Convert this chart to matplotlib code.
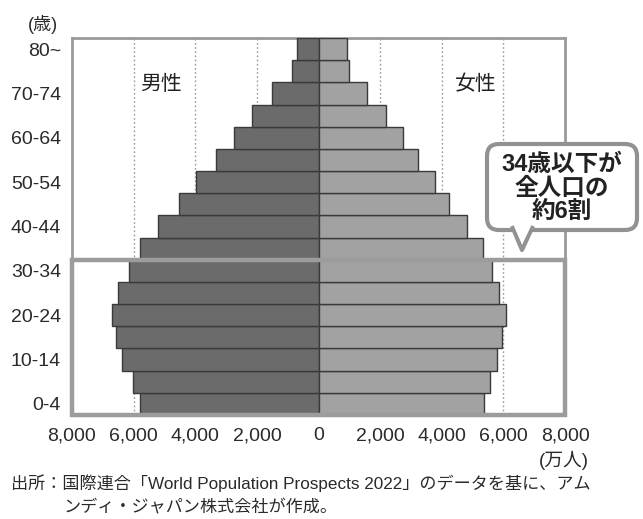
import matplotlib
matplotlib.use("Agg")
import matplotlib.pyplot as plt
from matplotlib.patches import FancyBboxPatch, Polygon, Rectangle

plt.rcParams['font.family'] = ['Liberation Sans', 'Noto Sans CJK JP', 'DejaVu Sans']

# ---- data (万人), bottom (0-4) to top (80~) ----
age_groups = ['0-4', '5-9', '10-14', '15-19', '20-24', '25-29', '30-34', '35-39',
              '40-44', '45-49', '50-54', '55-59', '60-64', '65-69', '70-74',
              '75-79', '80~']
male = [5800, 6030, 6390, 6570, 6710, 6500, 6150, 5800, 5220, 4520, 3980,
        3330, 2730, 2150, 1500, 850, 700]
female = [5370, 5550, 5790, 5950, 6080, 5870, 5620, 5350, 4830, 4250, 3780,
          3240, 2730, 2180, 1585, 990, 915]
x_ticks = [-8000, -6000, -4000, -2000, 0, 2000, 4000, 6000, 8000]
x_tick_labels = ['8,000', '6,000', '4,000', '2,000', '0', '2,000', '4,000',
                 '6,000', '8,000']
label_every = ['0-4', '10-14', '20-24', '30-34', '40-44', '50-54', '60-64',
               '70-74', '80~']

W, H = 643, 519
fig = plt.figure(figsize=(W / 100, H / 100), dpi=100)
ax = fig.add_axes([72 / W, 1 - 415 / H, (565 - 72) / W, (415 - 38) / H])

ypos = list(range(len(age_groups)))
male_color = '#6b6b6b'
female_color = '#a2a2a2'
edge = '#3a3a3a'

ax.barh(ypos, [-m for m in male], height=1.0, color=male_color,
        edgecolor=edge, linewidth=1.0, zorder=3)
ax.barh(ypos, female, height=1.0, color=female_color,
        edgecolor=edge, linewidth=1.0, zorder=3)

ax.set_xlim(-8000, 8000)
ax.set_ylim(-0.5, len(age_groups) - 0.5)

# dotted gridlines
for g in [-6000, -4000, -2000, 2000, 4000, 6000]:
    ax.axvline(g, color='#9a9a9a', linestyle=(0, (1.2, 1.8)), linewidth=1.0,
               zorder=1)

ax.set_xticks(x_ticks)
ax.set_xticklabels(x_tick_labels, fontsize=14, color='#2a2a2a')
ax.set_yticks([age_groups.index(a) for a in label_every])
ax.set_yticklabels(label_every, fontsize=14, color='#2a2a2a')
ax.tick_params(length=0, pad=8)
ax.tick_params(axis='x', pad=9)
for s in ax.spines.values():
    s.set_color('#9a9a9a')
    s.set_linewidth(2)

# highlighted box for 0-34
ax.add_patch(Rectangle((-8000, -0.5), 16000, age_groups.index('30-34') + 1,
                       fill=False, edgecolor='#9c9c9c', linewidth=3.2,
                       zorder=5, clip_on=False))

ax.text(-5100, 14.4, '男性', fontsize=15, ha='center', va='center',
        color='#222222', zorder=4)
ax.text(5100, 14.4, '女性', fontsize=15, ha='center', va='center',
        color='#222222', zorder=4)

fig.text(43 / W, 1 - 25 / H, '(歳)', fontsize=13, ha='center', va='center',
         color='#2a2a2a')
fig.text(564 / W, 1 - 460 / H, '(万人)', fontsize=13.5, ha='center',
         va='center', color='#2a2a2a')

fig.text(11 / W, 1 - 483 / H,
         '出所：国際連合「World Population Prospects 2022」のデータを基に、アム',
         fontsize=12.3, ha='left', va='center', color='#2a2a2a')
fig.text(64 / W, 1 - 507 / H, 'ンディ・ジャパン株式会社が作成。',
         fontsize=12.3, ha='left', va='center', color='#2a2a2a')

# callout bubble (pixel -> inch coordinates)
tr = fig.dpi_scale_trans


def P(x, y):
    return (x / 100, (H - y) / 100)


x0, y0 = P(487, 230)
x1, y1 = P(637, 144)
box = FancyBboxPatch((x0, y0), x1 - x0, y1 - y0,
                     boxstyle='round,pad=0,rounding_size=0.12',
                     transform=tr, facecolor='white', edgecolor='#929292',
                     linewidth=3, zorder=10)
fig.add_artist(box)
tri = Polygon([P(512, 226), P(522, 250), P(533, 226)], closed=False,
              transform=tr, facecolor='white', edgecolor='#929292',
              linewidth=3, zorder=11, joinstyle='round')
fig.add_artist(tri)
fig.add_artist(Polygon([P(514, 226), P(522, 244), P(531, 226)], closed=True,
                       transform=tr, facecolor='white', edgecolor='none',
                       zorder=12))
tx, ty = P(562, 188)
fig.text(tx / (W / 100), ty / (H / 100), '34歳以下が\n全人口の\n約6割',
         fontsize=17, fontweight='bold', ha='center', va='center',
         linespacing=1.05, color='#222222', zorder=13,
         family=['Liberation Sans', 'Noto Sans CJK JP'])

fig.savefig('out.png', dpi=100, facecolor='white')
